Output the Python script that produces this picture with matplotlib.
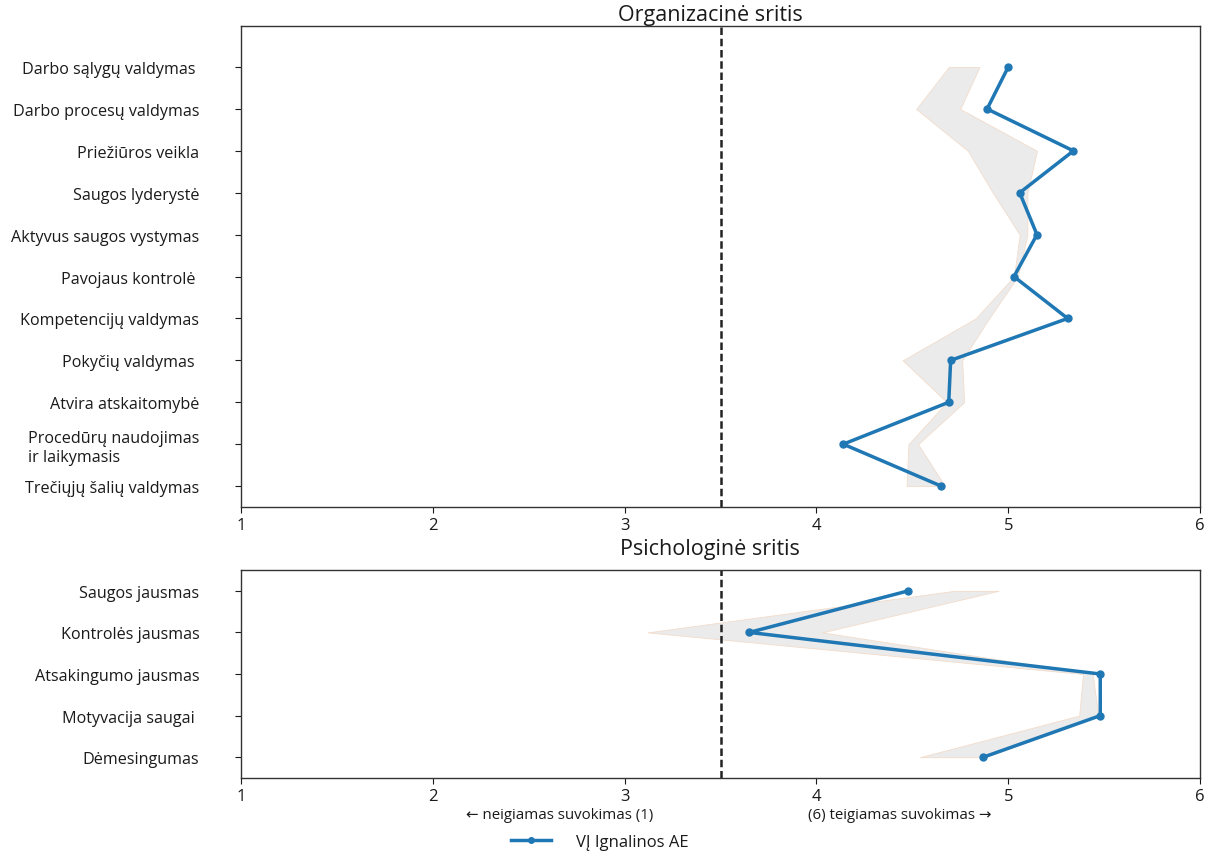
import matplotlib
matplotlib.use("Agg")
import matplotlib.pyplot as plt
from matplotlib.lines import Line2D

plt.rcParams["font.family"] = ["Open Sans", "DejaVu Sans"]

# Organizational domain
org_labels = [
    "Darbo sąlygų valdymas ",
    "Darbo procesų valdymas",
    "Priežiūros veikla",
    "Saugos lyderystė",
    "Aktyvus saugos vystymas",
    "Pavojaus kontrolė ",
    "Kompetencijų valdymas",
    "Pokyčių valdymas ",
    "Atvira atskaitomybė",
    "Procedūrų naudojimas\nir laikymasis",
    "Trečiųjų šalių valdymas",
]
org_values = [5.00, 4.89, 5.34, 5.06, 5.15, 5.03, 5.31, 4.70, 4.69, 4.14, 4.65]
org_low = [4.69, 4.52, 4.79, 4.92, 5.06, 5.03, 4.83, 4.45, 4.68, 4.48, 4.47]
org_high = [4.85, 4.75, 5.15, 5.10, 5.10, 5.05, 4.90, 4.76, 4.77, 4.53, 4.67]

# Psychological domain
psy_labels = [
    "Saugos jausmas",
    "Kontrolės jausmas",
    "Atsakingumo jausmas",
    "Motyvacija saugai ",
    "Dėmesingumas",
]
psy_values = [4.48, 3.65, 5.48, 5.48, 4.87]
psy_low = [4.72, 3.12, 5.39, 5.37, 4.54]
psy_high = [4.95, 4.03, 5.44, 5.47, 4.88]

x_ticks = [1, 2, 3, 4, 5, 6]
midpoint = 3.5
series_name = "VĮ Ignalinos AE"

BLUE = "#1f77b4"
BAND = "#ebebeb"
INK = "#1a1a1a"

fig = plt.figure(figsize=(12.16, 8.54), dpi=100)
W, H = 1216, 854


def add_axes_px(left, top, right, bottom):
    return fig.add_axes([left / W, 1 - bottom / H, (right - left) / W, (bottom - top) / H])


def draw_panel(ax, labels, values, low, high, ylim):
    pos = list(range(len(labels)))
    ax.fill_betweenx(pos, low, high, facecolor=BAND, edgecolor="#f2dccb",
                     linewidth=0.6, zorder=1)
    ax.plot(values, pos, color=BLUE, linewidth=2.5, marker="o", markersize=5, zorder=3)
    ax.axvline(midpoint, color="#222222", linestyle=(0, (3, 1.5)), linewidth=1.8, zorder=2)
    ax.set_xlim(1, 6)
    ax.set_ylim(*ylim)
    ax.set_xticks(x_ticks)
    ax.set_xticklabels([str(t) for t in x_ticks])
    ax.set_yticks(pos)
    ax.set_yticklabels(labels, fontsize=11.6, multialignment="left")
    ax.tick_params(axis="y", length=4, pad=26, colors=INK)
    ax.tick_params(axis="x", length=4, labelsize=12, colors=INK)
    for s in ax.spines.values():
        s.set_color("#333333")
        s.set_linewidth(1.0)


ax1 = add_axes_px(241, 27, 1200, 508)
draw_panel(ax1, org_labels, org_values, org_low, org_high, (10.5, -0.98))
fig.text(710 / W, 1 - 16 / H, "Organizacinė sritis", ha="center", va="center",
         fontsize=15.5, color=INK)

ax2 = add_axes_px(241, 571, 1200, 779)
draw_panel(ax2, psy_labels, psy_values, psy_low, psy_high, (4.5, -0.5))
fig.text(710 / W, 1 - 549 / H, "Psichologinė sritis", ha="center", va="center",
         fontsize=15.5, color=INK)

fig.text(560 / W, 1 - 816 / H, "← neigiamas suvokimas (1)", ha="center", va="center",
         fontsize=10.8, color=INK)
fig.text(900 / W, 1 - 816 / H, "(6) teigiamas suvokimas →", ha="center", va="center",
         fontsize=10.8, color=INK)

handle = Line2D([], [], color=BLUE, linewidth=2.5, marker="o", markersize=4)
fig.legend([handle], [series_name], loc="center", bbox_to_anchor=(600 / W, 1 - 843 / H),
           frameon=False, fontsize=12, handlelength=2.4, handletextpad=1.5,
           labelcolor=INK)

fig.savefig("out.png", dpi=100)
